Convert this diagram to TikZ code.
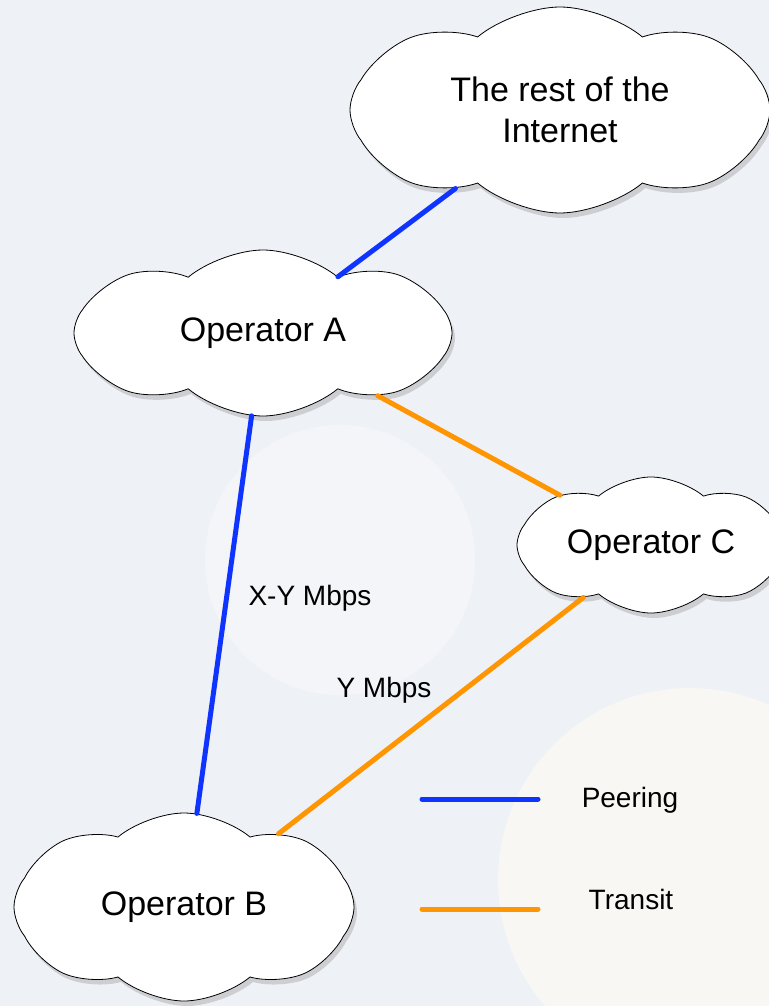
\documentclass[tikz,border=0pt]{standalone}
\usepackage{fontspec}
\setmainfont{Liberation Sans}
\usetikzlibrary{positioning,shadows,shapes.symbols}
\definecolor{bgcol}{HTML}{EEF1F6}
\definecolor{warmcol}{HTML}{F8F7F3}
\definecolor{peercol}{HTML}{1034FF}
\definecolor{transcol}{HTML}{FF9500}
\tikzstyle{operator}=[
  cloud,
  cloud puffs=8,
  cloud puff arc=80,
  cloud ignores aspect,
  draw=black,
  fill=white,
  thin,
  align=center,
  inner sep=0pt,
  font={\fontsize{17}{20.5}\selectfont},
  drop shadow={shadow xshift=1.5pt,shadow yshift=-2.5pt,opacity=.3},
]
\tikzstyle{link}=[
  line width=2.5pt,
  line cap=round,
]
\tikzstyle{peering}=[link, draw=peercol]
\tikzstyle{transit}=[link, draw=transcol]
\tikzstyle{linklabel}=[
  font={\fontsize{14}{16}\selectfont},
  inner sep=0pt,
]
\tikzset{
  x=.5pt,
  y=-.5pt,
}

\begin{document}
\begin{tikzpicture}
  \fill [bgcol] (0,0) rectangle (769,1006);
  \useasboundingbox (0,0) rectangle (769,1006);
  %% faint backdrop
  \fill [white, opacity=.3] (340,560) circle (135);
  \fill [warmcol] (690,880) circle (192);
  %%
  \node (internet) [operator, minimum width=210pt, minimum height=103pt] at (560,110) {The rest of the\\Internet};
  \node (opa) [operator, minimum width=189pt, minimum height=83pt] at (263,333) {Operator A};
  \node (opc) [operator, minimum width=134pt, minimum height=68pt] at (651,545) {Operator C};
  \node (opb) [operator, minimum width=170pt, minimum height=94pt] at (184,907) {Operator B};
  %%
  \draw [peering] (internet) -- (opa);
  \draw [peering] (opa) -- (opb);
  \draw [transit] (opa) -- (opc);
  \draw [transit] (opc) -- (opb);
  \node (xy) [linklabel] at (310,598) {X-Y Mbps};
  \node (y) [linklabel] at (384,690) {Y Mbps};
  %% legend
  \coordinate (P1) at (422,799);
  \coordinate (P2) at (538,799);
  \coordinate (T1) at (422,909);
  \coordinate (T2) at (538,909);
  \draw [peering] (P1) -- (P2);
  \draw [transit] (T1) -- (T2);
  \node (peerkey) [linklabel] at (630,800) {Peering};
  \node (transkey) [linklabel] at (631,899) {Transit};
\end{tikzpicture}
\end{document}
